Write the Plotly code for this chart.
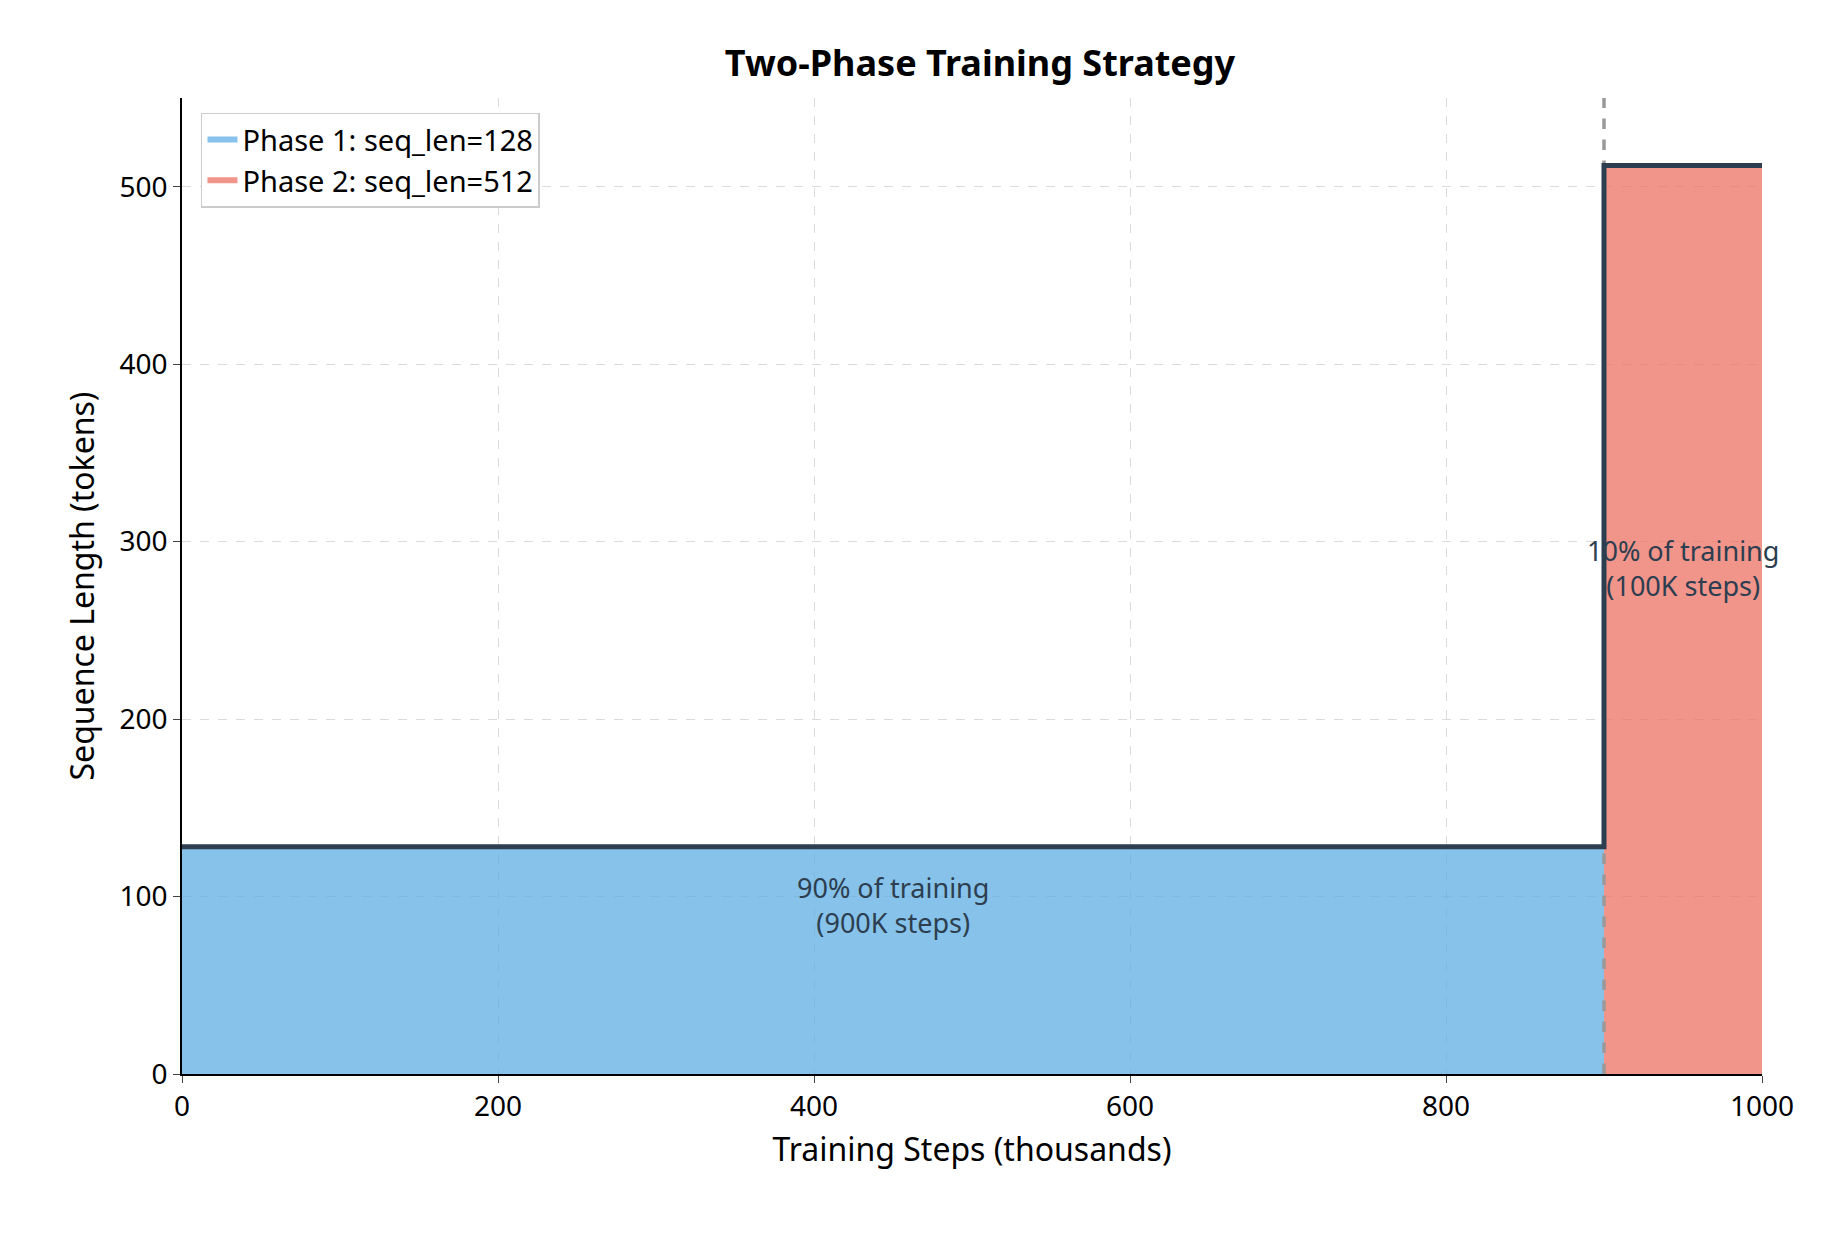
import plotly.graph_objects as go

phase_names = ["Phase 1: seq_len=128", "Phase 2: seq_len=512"]
phase_start = [0, 900]
phase_end = [900, 1000]
seq_len = [128, 512]
fills = ["rgba(93,173,226,0.75)", "rgba(236,112,99,0.75)"]
labels = ["90% of training<br>(900K steps)", "10% of training<br>(100K steps)"]
label_y = [95, 285]

fig = go.Figure()
for i in range(2):
    fig.add_trace(go.Scatter(
        x=[phase_start[i], phase_start[i], phase_end[i], phase_end[i], phase_start[i]],
        y=[0, seq_len[i], seq_len[i], 0, 0], fill="toself", fillcolor=fills[i],
        mode="none", name=phase_names[i]))
fig.add_trace(go.Scatter(x=[900, 900], y=[0, 550], mode="lines",
                         line=dict(color="#999999", width=3.5, dash="dash"), showlegend=False))
fig.add_trace(go.Scatter(x=[phase_start[0], phase_end[0], phase_start[1], phase_end[1]],
                         y=[seq_len[0], seq_len[0], seq_len[1], seq_len[1]], mode="lines",
                         line=dict(color="#2c3e50", width=5, shape="hv"), showlegend=False))
for i in range(2):
    fig.add_annotation(x=(phase_start[i] + phase_end[i]) / 2, y=label_y[i], text=labels[i],
                       showarrow=False, font=dict(size=27, color="#2c3e50"))

axis = dict(showline=True, linecolor="black", linewidth=1.5, ticks="outside", ticklen=7,
            showgrid=True, gridcolor="rgba(0,0,0,0.14)", griddash="dash", zeroline=False,
            tickfont=dict(size=28, color="black"), title_font=dict(size=32, color="black"))
fig.update_xaxes(axis, range=[0, 1000], dtick=200, title_text="Training Steps (thousands)")
fig.update_yaxes(axis, range=[0, 550], dtick=100, title_text="Sequence Length (tokens)")
fig.update_layout(
    width=1834, height=1234, plot_bgcolor="white", paper_bgcolor="white",
    font=dict(family="Noto Sans"),
    margin=dict(l=174, r=80, t=90, b=168),
    title=dict(text="<b>Two-Phase Training Strategy</b>", x=0.53, xanchor="center", y=0.965,
               font=dict(size=36, color="black")),
    legend=dict(x=0.012, y=0.985, xanchor="left", yanchor="top", bgcolor="white",
                bordercolor="#cccccc", borderwidth=1.5, font=dict(size=29, color="black")),
)
fig.write_html("out.html")
